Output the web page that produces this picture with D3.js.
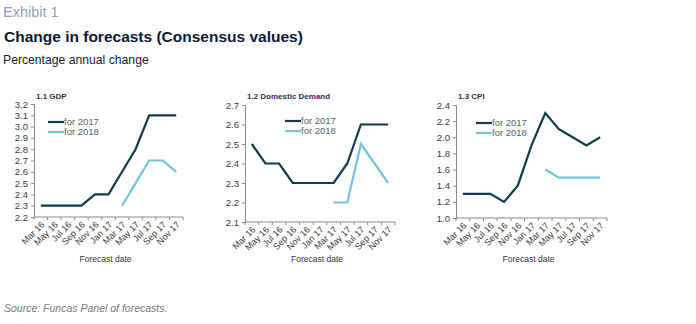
<!DOCTYPE html>
<html>
<head>
<meta charset="utf-8">
<script src="https://cdn.jsdelivr.net/npm/d3@7"></script>
<style>
  body { margin: 0; background: #fff; }
  svg text { font-family: "Liberation Sans", Arial, sans-serif; }
</style>
</head>
<body>
<svg id="chart" width="696" height="324"></svg>
<script>
// categories (forecast dates)
var dates = ['Mar 16', 'May 16', 'Jul 16', 'Sep 16', 'Nov 16', 'Jan 17', 'Mar 17', 'May 17', 'Jul 17', 'Sep 17', 'Nov 17'];

// series values (null = no forecast yet)
var gdp2017 = [2.3, 2.3, 2.3, 2.3, 2.4, 2.4, 2.6, 2.8, 3.1, 3.1, 3.1];
var gdp2018 = [null, null, null, null, null, null, 2.3, 2.5, 2.7, 2.7, 2.6];
var dd2017 = [2.5, 2.4, 2.4, 2.3, 2.3, 2.3, 2.3, 2.4, 2.6, 2.6, 2.6];
var dd2018 = [null, null, null, null, null, null, 2.2, 2.2, 2.5, 2.4, 2.3];
var cpi2017 = [1.3, 1.3, 1.3, 1.2, 1.4, 1.9, 2.3, 2.1, 2.0, 1.9, 2.0];
var cpi2018 = [null, null, null, null, null, null, 1.6, 1.5, 1.5, 1.5, 1.5];

// y tick labels
var gdpTicks = ['2.2', '2.3', '2.4', '2.5', '2.6', '2.7', '2.8', '2.9', '3.0', '3.1', '3.2'];
var ddTicks = ['2.1', '2.2', '2.3', '2.4', '2.5', '2.6', '2.7'];
var cpiTicks = ['1.0', '1.2', '1.4', '1.6', '1.8', '2.0', '2.2', '2.4'];

var seriesNames = ['for 2017', 'for 2018'];
var colors = ['#0f3b4c', '#74c5db'];

var svg = d3.select('#chart');

// header
svg.append('text').attr('x', 3).attr('y', 17).attr('font-size', 14.5)
    .attr('fill', '#8ea2bf').text('Exhibit 1');
svg.append('text').attr('x', 4).attr('y', 42).attr('font-size', 15.5)
    .attr('font-weight', 'bold').attr('fill', '#0b1a33')
    .text('Change in forecasts (Consensus values)');
svg.append('text').attr('x', 3).attr('y', 64).attr('font-size', 12.2)
    .attr('fill', '#1a1a2a').text('Percentage annual change');
svg.append('text').attr('x', 4).attr('y', 312).attr('font-size', 10.5)
    .attr('font-style', 'italic').attr('fill', '#7a7a7a')
    .text('Source: Funcas Panel of forecasts.');

var panels = [
    {title: '1.1 GDP', s17: gdp2017, s18: gdp2018, ticks: gdpTicks,
     x0: 34, x1: 183, yb: 217, yt: 104, legX: 48, legY: 122},
    {title: '1.2 Domestic Demand', s17: dd2017, s18: dd2018, ticks: ddTicks,
     x0: 245, x1: 395, yb: 222, yt: 105, legX: 285, legY: 121},
    {title: '1.3 CPI', s17: cpi2017, s18: cpi2018, ticks: cpiTicks,
     x0: 456, x1: 607, yb: 218, yt: 105, legX: 476, legY: 123}
];

panels.forEach(function(p) {
    var g = svg.append('g');

    var x = d3.scaleBand().domain(dates).range([p.x0, p.x1]).padding(0);
    var yMin = +p.ticks[0], yMax = +p.ticks[p.ticks.length - 1];
    var y = d3.scaleLinear().domain([yMin, yMax]).range([p.yb, p.yt]);

    // y axis
    var yAxis = d3.axisLeft(y)
        .tickValues(p.ticks.map(Number))
        .tickFormat(function(d, i) { return p.ticks[i]; })
        .tickSize(3).tickPadding(3);
    var ya = g.append('g').attr('transform', 'translate(' + p.x0 + ',0)').call(yAxis);
    ya.select('.domain').attr('stroke', '#8a8a8a');
    ya.selectAll('.tick line').attr('stroke', '#8a8a8a');
    ya.selectAll('.tick text').attr('font-size', 9.5).attr('fill', '#3a3a3a')
        .attr('font-family', '"Liberation Sans", Arial, sans-serif');

    // x axis: line + ticks at band edges
    g.append('line').attr('x1', p.x0).attr('x2', p.x1)
        .attr('y1', p.yb).attr('y2', p.yb).attr('stroke', '#8a8a8a');
    var edges = dates.map(function(d) { return x(d); }).concat([p.x1]);
    g.selectAll('.xt').data(edges).enter().append('line')
        .attr('x1', function(d) { return d; }).attr('x2', function(d) { return d; })
        .attr('y1', p.yb).attr('y2', p.yb + 3).attr('stroke', '#8a8a8a');
    g.selectAll('.xl').data(dates).enter().append('text')
        .attr('transform', function(d) {
            return 'translate(' + (x(d) + x.bandwidth() / 2 + 2) + ',' + (p.yb + 6) + ') rotate(-45)';
        })
        .attr('text-anchor', 'end').attr('dy', '0.35em')
        .attr('font-size', 9).attr('fill', '#3a3a3a').text(function(d) { return d; });

    g.append('text').attr('x', (p.x0 + p.x1) / 2 - 3).attr('y', 262)
        .attr('text-anchor', 'middle').attr('font-size', 8.5).attr('fill', '#333')
        .text('Forecast date');

    g.append('text').attr('x', p.x0 + 2).attr('y', 99).attr('font-size', 8)
        .attr('font-weight', 'bold').attr('fill', '#1d3550').text(p.title);

    // lines
    var line = d3.line()
        .defined(function(d) { return d.v !== null; })
        .x(function(d) { return x(d.k) + x.bandwidth() / 2; })
        .y(function(d) { return y(d.v); });

    [p.s17, p.s18].forEach(function(s, i) {
        var pts = dates.map(function(k, j) { return {k: k, v: s[j]}; });
        g.append('path').datum(pts).attr('d', line)
            .attr('fill', 'none').attr('stroke', colors[i])
            .attr('stroke-width', 2.2).attr('stroke-linejoin', 'miter');
    });

    // legend
    seriesNames.forEach(function(n, i) {
        var ly = p.legY + i * 10;
        g.append('line').attr('x1', p.legX).attr('x2', p.legX + 16)
            .attr('y1', ly).attr('y2', ly).attr('stroke', colors[i]).attr('stroke-width', 2.2);
        g.append('text').attr('x', p.legX + 16).attr('y', ly).attr('dy', '0.35em')
            .attr('font-size', 9.5).attr('fill', '#4f6575').text(n);
    });
});
</script>
</body>
</html>
